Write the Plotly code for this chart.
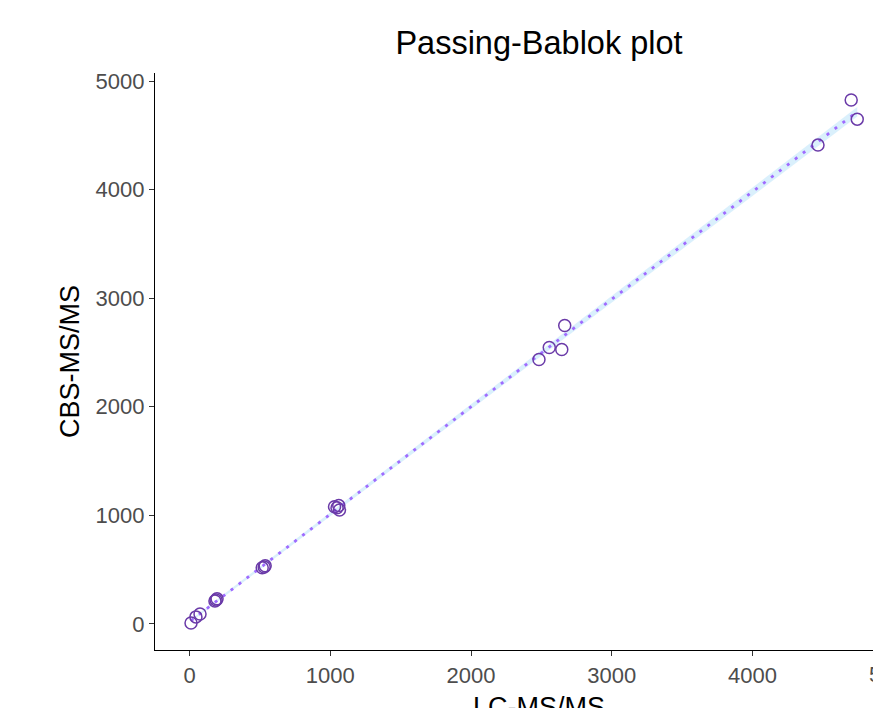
import plotly.graph_objects as go

# Data
lc_msms = [10, 45, 74, 180, 188, 195, 516, 530, 537, 1030, 1048, 1060, 1065,
           2483, 2556, 2645, 2666, 4466, 4702, 4745]
cbs_msms = [9, 65, 92, 212, 220, 231, 517, 525, 535, 1080, 1070, 1090, 1050,
            2435, 2546, 2528, 2749, 4410, 4825, 4649]

# Passing-Bablok fit
fit_intercept = 20
fit_slope = 0.99
ci_low_intercept = 10
ci_low_slope = 0.983
ci_high_intercept = 30
ci_high_slope = 0.997

x_ticks = [0, 1000, 2000, 3000, 4000, 5000]
y_ticks = [0, 1000, 2000, 3000, 4000, 5000]
x_range = [-246, 4857]
y_range = [-240, 5074]

x_end = [min(lc_msms), max(lc_msms)]
fit_y = [fit_intercept + fit_slope * v for v in x_end]
lo_y = [ci_low_intercept + ci_low_slope * v for v in x_end]
hi_y = [ci_high_intercept + ci_high_slope * v for v in x_end]

fig = go.Figure()
fig.add_trace(go.Scatter(x=x_end + x_end[::-1], y=hi_y + lo_y[::-1], fill="toself",
                         fillcolor="rgba(214,238,252,0.9)", line=dict(width=0),
                         mode="lines", showlegend=False, hoverinfo="skip"))
fig.add_trace(go.Scatter(x=x_end, y=fit_y, mode="lines",
                         line=dict(color="#9f6bff", width=2.8, dash="3px,7px"),
                         showlegend=False))
fig.add_trace(go.Scatter(x=lc_msms, y=cbs_msms, mode="markers",
                         marker=dict(symbol="circle-open", size=12, color="#6a3aa8",
                                     line=dict(width=1.5, color="#6a3aa8")),
                         showlegend=False))

L, R, T, B = 155, 0, 73, 58
W, H = 873, 708
plot_w = W - L - R
plot_h = H - T - B
title_px = 539

fig.update_layout(
    width=W, height=H,
    margin=dict(l=L, r=R, t=T, b=B, autoexpand=False),
    paper_bgcolor="white", plot_bgcolor="white",
    font=dict(family="Liberation Sans, Arial, sans-serif", color="#4d4d4d"),
    title=dict(text="Passing-Bablok plot", x=(title_px - L) / plot_w, xref="paper",
               xanchor="center", y=1 - 43 / H, yanchor="middle",
               font=dict(size=32.5, color="black")),
    xaxis=dict(range=x_range, tickvals=x_ticks, ticks="outside", ticklen=5,
               tickcolor="#333333", showline=True, linecolor="black", linewidth=1.3,
               showgrid=False, zeroline=False, automargin=False,
               tickfont=dict(size=22, color="#4d4d4d")),
    yaxis=dict(range=y_range, tickvals=y_ticks, ticks="outside", ticklen=5,
               tickcolor="#333333", showline=True, linecolor="black", linewidth=1.3,
               showgrid=False, zeroline=False, automargin=False,
               tickfont=dict(size=22, color="#4d4d4d"),
               title=dict(text="CBS-MS/MS", font=dict(size=27, color="black"), standoff=8)),
)

# x-axis title, centred as in the reference (panel extends beyond the crop)
fig.add_annotation(text="LC-MS/MS", xref="paper", yref="paper",
                   x=(title_px - L) / plot_w, y=-(690 - (H - B)) / plot_h,
                   xanchor="center", yanchor="top", showarrow=False,
                   font=dict(size=27, color="black"))
# 5000 tick label partially visible at right edge
fig.add_annotation(text="5000", xref="paper", yref="paper",
                   x=(5000 - x_range[0]) / (x_range[1] - x_range[0]), y=0,
                   xanchor="center", yanchor="top", yshift=-10, showarrow=False,
                   font=dict(size=22, color="#4d4d4d"))

fig.write_html("out.html", config={"displayModeBar": False},
               post_script="document.body.style.margin='0';document.body.style.overflow='hidden';")
